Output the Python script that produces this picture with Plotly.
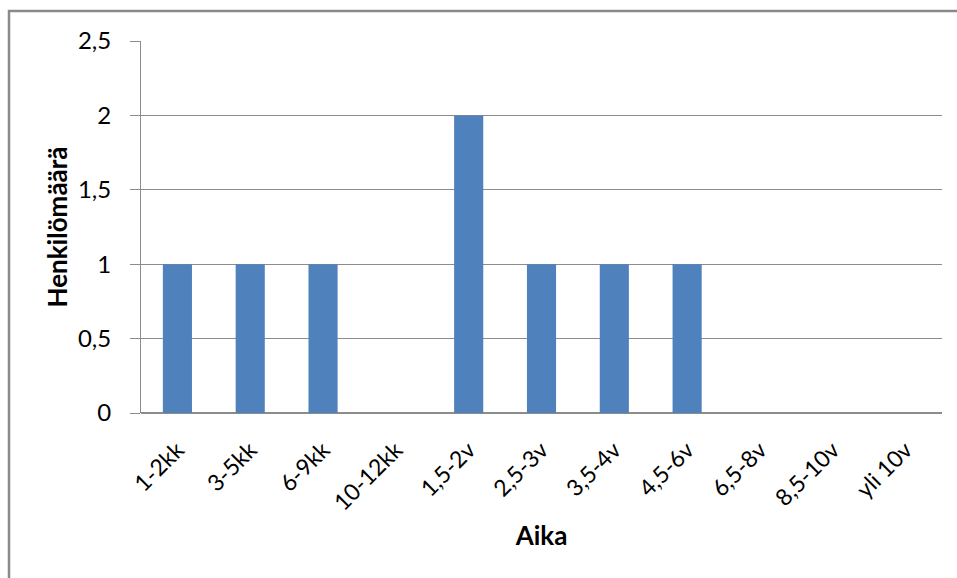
import plotly.graph_objects as go

# Duration categories and number of persons in each
categories = ["1-2kk", "3-5kk", "6-9kk", "10-12kk", "1,5-2v", "2,5-3v",
              "3,5-4v", "4,5-6v", "6,5-8v", "8,5-10v", "yli 10v"]
counts = [1, 1, 1, 0, 2, 1, 1, 1, 0, 0, 0]
y_ticks = [0, 0.5, 1, 1.5, 2, 2.5]
y_tick_labels = ["0", "0,5", "1", "1,5", "2", "2,5"]

FONT = "Lato, 'Open Sans', sans-serif"
GRID = "#8c8c8c"

fig = go.Figure(
    go.Bar(
        x=categories,
        y=counts,
        marker=dict(color="#4f81bd", line=dict(width=0)),
        width=0.4,
    )
)

fig.update_layout(
    width=957,
    height=578,
    margin=dict(l=141, r=15, t=41, b=165),
    paper_bgcolor="white",
    plot_bgcolor="white",
    font=dict(family=FONT, size=23, color="#000000"),
    showlegend=False,
    shapes=[
        # chart-area frame
        dict(type="rect", xref="paper", yref="paper",
             x0=(9 - 141) / 801, x1=(966 - 141) / 801,
             y0=(413 - 590) / 372, y1=1 + 30 / 372,
             line=dict(color="#8a8a8a", width=2.5), fillcolor="rgba(0,0,0,0)",
             layer="below"),
    ],
)

fig.update_xaxes(
    type="category",
    tickangle=-45,
    showgrid=False,
    showline=False,
    ticks="",
    ticklabelstandoff=18,
    tickfont=dict(family=FONT, size=23, color="#000000"),
    title=dict(text="<b>Aika</b>", font=dict(family=FONT, size=26, color="#000000"),
               standoff=12),
    range=[-0.5, len(categories) - 0.5],
)

fig.update_yaxes(
    range=[0, 2.5],
    tickmode="array",
    tickvals=y_ticks,
    ticktext=y_tick_labels,
    showgrid=True,
    gridcolor=GRID,
    gridwidth=1,
    showline=True,
    linecolor=GRID,
    linewidth=1,
    ticks="outside",
    ticklen=10,
    tickcolor=GRID,
    tickwidth=1,
    zeroline=True,
    zerolinecolor=GRID,
    zerolinewidth=1.5,
    ticklabelstandoff=14,
    tickfont=dict(family=FONT, size=24, color="#000000"),
    title=dict(text="<b>Henkilömäärä</b>", font=dict(family=FONT, size=26, color="#000000"),
               standoff=2),
)

fig.write_html("out.html")
